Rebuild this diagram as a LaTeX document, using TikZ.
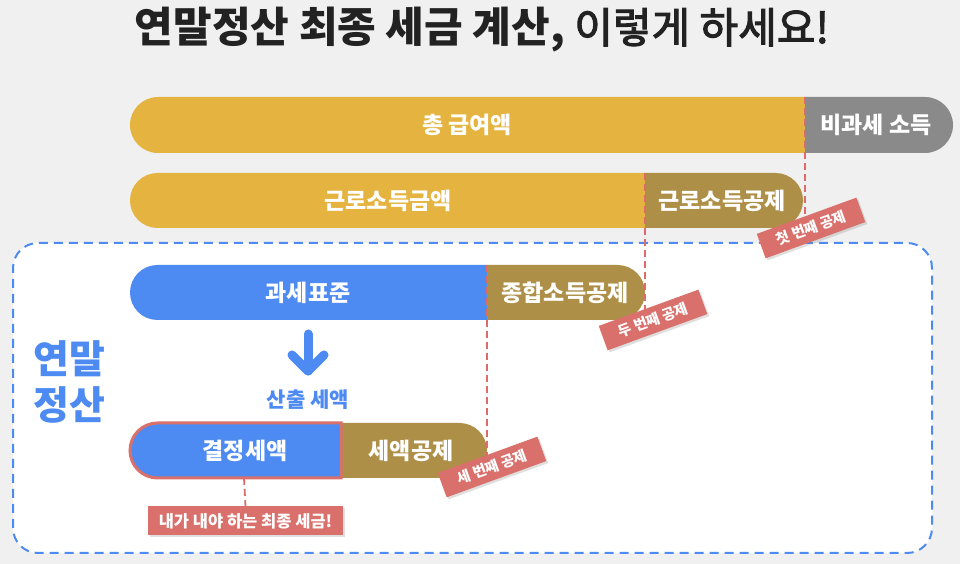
\documentclass[tikz,border=0pt]{standalone}
\usepackage{fontspec}
\setmainfont{Noto Sans CJK KR}
\newfontfamily\medfont{Noto Sans CJK KR}[FakeBold=2.5]
\usetikzlibrary{shadows,calc}
\definecolor{bgc}{HTML}{F0F0F0}
\definecolor{ylw}{HTML}{E5B340}
\definecolor{gry}{HTML}{8A8A8A}
\definecolor{olv}{HTML}{AE8F47}
\definecolor{blu}{HTML}{4D8AF2}
\definecolor{tagred}{HTML}{D9706B}
\definecolor{dred}{HTML}{E06A6A}
\definecolor{ttl}{HTML}{222222}
\tikzset{
  bartext/.style={text=white, font=\bfseries\fontsize{23}{27}\selectfont, inner sep=0pt},
  tagbox/.style={fill=tagred, text=white, font=\bfseries\fontsize{14.5}{16}\selectfont,
     inner sep=0pt, minimum height=26pt, minimum width=106pt,
     drop shadow={opacity=0.25, shadow xshift=2pt, shadow yshift=-2pt}},
  redline/.style={dred, line width=1.8pt, dash pattern=on 7pt off 4pt},
}
\begin{document}
\begin{tikzpicture}[x=1pt,y=1pt]
\fill[bgc] (0,0) rectangle (960,564);
\useasboundingbox (0,0) rectangle (960,564);
% title
\node[text=ttl, font=\fontsize{42}{48}\selectfont, inner sep=0pt] (title) at (482,534)
  {\textbf{연말정산 최종 세금 계산,} {\medfont 이렇게 하세요!}};
% dashed region
\draw[fill=white, draw=blu, line width=2pt, dash pattern=on 9pt off 6pt, rounded corners=25pt]
  (13,11) rectangle (932,321);
% bar 1
\fill[ylw] (805,467) -- (158,467) arc[start angle=90,end angle=270,radius=28] -- (805,411) -- cycle;
\fill[gry] (805,467) -- (925,467) arc[start angle=90,end angle=-90,radius=28] -- (805,411) -- cycle;
% bar 2
\fill[ylw] (645,391) -- (157.5,391) arc[start angle=90,end angle=270,radius=27.5] -- (645,336) -- cycle;
\fill[olv] (645,391) -- (775.5,391) arc[start angle=90,end angle=-90,radius=27.5] -- (645,336) -- cycle;
% bar 3
\fill[blu] (487,299) -- (157.5,299) arc[start angle=90,end angle=270,radius=27.5] -- (487,244) -- cycle;
\fill[olv] (487,299) -- (617.5,299) arc[start angle=90,end angle=-90,radius=27.5] -- (487,244) -- cycle;
% bar 4
\fill[olv] (340,141) -- (459.5,141) arc[start angle=90,end angle=-90,radius=27.5] -- (340,86) -- cycle;
\draw[fill=blu, draw=tagred, line width=3pt] (341,141) -- (157.5,141) arc[start angle=90,end angle=270,radius=27.5] -- (341,86) -- cycle;
% bar texts
\node[bartext] (t1) at (467,439) {총 급여액};
\node[bartext] (t2) at (876,439) {비과세 소득};
\node[bartext] (t3) at (388,363.5) {근로소득금액};
\node[bartext] (t4) at (722,363.5) {근로소득공제};
\node[bartext] (t5) at (308,271.5) {과세표준};
\node[bartext] (t6) at (565,271.5) {종합소득공제};
\node[bartext] (t7) at (245,113.5) {결정세액};
\node[bartext] (t8) at (411,113.5) {세액공제};
% left label
\node[text=blu, font=\bfseries\fontsize{39}{46}\selectfont, align=center, inner sep=0pt] (ym) at (69,182) {연말\\정산};
% arrow
\coordinate (a1) at (308,230);
\coordinate (a2) at (308,193);
\draw[blu, line width=9pt, line cap=round] (a1) -- (a2);
\draw[blu, line width=9pt, line cap=round, line join=round] ($(a2)+(-16,16)$) -- (a2) -- ($(a2)+(16,16)$);
\node[text=blu, font=\bfseries\fontsize{21}{24}\selectfont, inner sep=0pt] (calc) at (308,164) {산출 세액};
% dashed red lines and tags
\coordinate (c1) at (805,467);
\coordinate (c2) at (645,391);
\coordinate (c3) at (487,299);
\coordinate (c4) at (244,86);
\coordinate (e1) at (805,338);
\coordinate (e2) at (645,254);
\coordinate (e3) at (487,105);
\draw[redline] (c1) -- (e1);
\draw[redline] (c2) -- (e2);
\draw[redline] (c3) -- (e3);
\node[tagbox, rotate=20] (g1) at (811,336) {첫 번째 공제};
\node[tagbox, rotate=20] (g2) at (653,244) {두 번째 공제};
\node[tagbox, rotate=20] (g3) at (492,97) {세 번째 공제};
\node[tagbox, minimum width=195pt, minimum height=29pt, font=\bfseries\fontsize{16.5}{18}\selectfont] (g4) at (245.5,43) {내가 내야 하는 최종 세금!};
\draw[redline] (c4) -- (g4.north);
\end{tikzpicture}
\end{document}
